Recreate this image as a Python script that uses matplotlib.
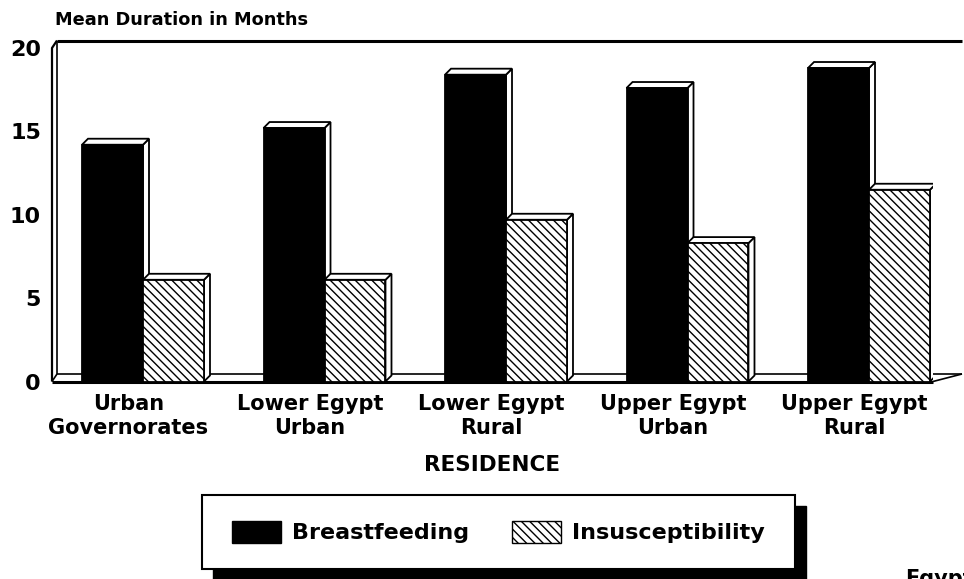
import matplotlib
matplotlib.use('Agg')
import matplotlib.pyplot as plt
from matplotlib.patches import Polygon, Rectangle, Patch
import matplotlib.transforms as mtransforms

# ---- data ----
categories = ["Urban\nGovernorates", "Lower Egypt\nUrban", "Lower Egypt\nRural",
              "Upper Egypt\nUrban", "Upper Egypt\nRural"]
breastfeeding = [14.2, 15.2, 18.4, 17.6, 18.8]
insusceptibility = [6.1, 6.1, 9.7, 8.3, 11.5]
yticks = [0, 5, 10, 15, 20]
series_labels = ["Breastfeeding", "Insusceptibility"]
title = "Mean Duration in Months"
xlabel = "RESIDENCE"

plt.rcParams['font.family'] = ['DejaVu Sans']
plt.rcParams['hatch.linewidth'] = 1.0
plt.rcParams['hatch.color'] = 'black'

W, H = 964, 579
fig = plt.figure(figsize=(W / 100, H / 100), dpi=100)

L, R, B, T = 52, 933, 381.5, 48  # axes frame in pixels
ax = fig.add_axes([L / W, 1 - B / H, (R - L) / W, (B - T) / H])
xmin, xmax = -0.5014, 4.3526
ymin, ymax = 0, 20
ax.set_xlim(xmin, xmax)
ax.set_ylim(ymin, ymax)
for s in ax.spines.values():
    s.set_visible(False)
ax.set_xticks([])
ax.set_yticks(yticks)
ax.set_yticklabels([str(v) for v in yticks], fontsize=16, fontweight='bold')
ax.tick_params(axis='y', length=0, pad=8)
ax.patch.set_visible(False)

xpp = (xmax - xmin) / (R - L)
ypp = (ymax - ymin) / (B - T)


def off(px, py):
    return px * xpp, py * ypp


lk = dict(color='black', clip_on=False, solid_capstyle='butt')
# walls / floor
wdx, wdy = off(5, 7.5)
rdx, _ = off(29, 0)
ax.plot([xmin, xmin, xmin + wdx], [0, ymax, ymax + wdy], lw=1.6, zorder=1, **lk)
ax.plot([xmin + wdx, xmin + wdx], [wdy, ymax + wdy], lw=1.2, zorder=1, **lk)
ax.plot([xmin + wdx, xmax + rdx], [ymax + wdy, ymax + wdy], lw=2.2, zorder=1, **lk)
ax.plot([xmin, xmax], [0, 0], lw=2.2, zorder=1, **lk)
ax.plot([xmin + wdx, xmax + rdx], [wdy, wdy], lw=1.2, zorder=1, **lk)
ax.plot([xmin, xmin + wdx], [0, wdy], lw=1.2, zorder=1, **lk)
ax.plot([xmax, xmax + rdx], [0, wdy], lw=1.2, zorder=1, **lk)

# bars
bw = 0.336
dx, dy = off(6, 6)


def bar3d(x0, x1, h, face, hatch, z):
    side = Polygon([(x1, 0), (x1 + dx, dy), (x1 + dx, h + dy), (x1, h)],
                   closed=True, facecolor='white', edgecolor='black', lw=1.3, zorder=z)
    top = Polygon([(x0, h), (x0 + dx, h + dy), (x1 + dx, h + dy), (x1, h)],
                  closed=True, facecolor='white', edgecolor='black', lw=1.3, zorder=z)
    ax.add_patch(side)
    ax.add_patch(top)
    ax.bar([x0], [h], width=x1 - x0, align='edge', color=face, edgecolor='black',
           hatch=hatch, lw=1.3, zorder=z + 0.5)


for i, (bf, ins) in enumerate(zip(breastfeeding, insusceptibility)):
    bar3d(i - bw, i, bf, 'black', None, 2)
    bar3d(i, i + bw, ins, 'white', '\\\\\\\\', 3)

# category labels
trans = mtransforms.blended_transform_factory(ax.transData, fig.transFigure)
for i, c in enumerate(categories):
    ax.text(i - 0.08, 1 - 416 / H, c, transform=trans, ha='center', va='center',
            fontsize=15, fontweight='bold', multialignment='center', linespacing=1.2)

fig.text(492 / W, 1 - 465 / H, xlabel, ha='center', va='center', fontsize=15.5, fontweight='bold')
fig.text(55 / W, 1 - 20 / H, title, ha='left', va='center', fontsize=12.8, fontweight='bold')

# legend box with shadow
bx0, by0, bx1, by1 = 202, 495, 795, 569
sh = 11
fig.patches.append(Rectangle(((bx0 + sh) / W, 1 - (by1 + sh) / H), (bx1 - bx0) / W, (by1 - by0) / H,
                             transform=fig.transFigure, facecolor='black', edgecolor='black', zorder=5))
fig.patches.append(Rectangle((bx0 / W, 1 - by1 / H), (bx1 - bx0) / W, (by1 - by0) / H,
                             transform=fig.transFigure, facecolor='white', edgecolor='black', lw=1.5, zorder=6))
handles = [Patch(facecolor='black', edgecolor='black', label=series_labels[0]),
           Patch(facecolor='white', edgecolor='black', hatch='\\\\\\\\', label=series_labels[1])]
leg = fig.legend(handles=handles, loc='center', bbox_to_anchor=((bx0 + bx1) / 2 / W, 1 - (by0 + by1) / 2 / H),
                 ncol=2, frameon=False, prop={'weight': 'bold', 'size': 16},
                 handlelength=2.2, handleheight=1.15, handletextpad=0.5, columnspacing=1.9)
leg.set_zorder(7)

fig.text(905 / W, 1 - 569 / H, "Egypt", ha='left', va='top', fontsize=15, fontweight='bold')

fig.savefig('out.png', dpi=100)
